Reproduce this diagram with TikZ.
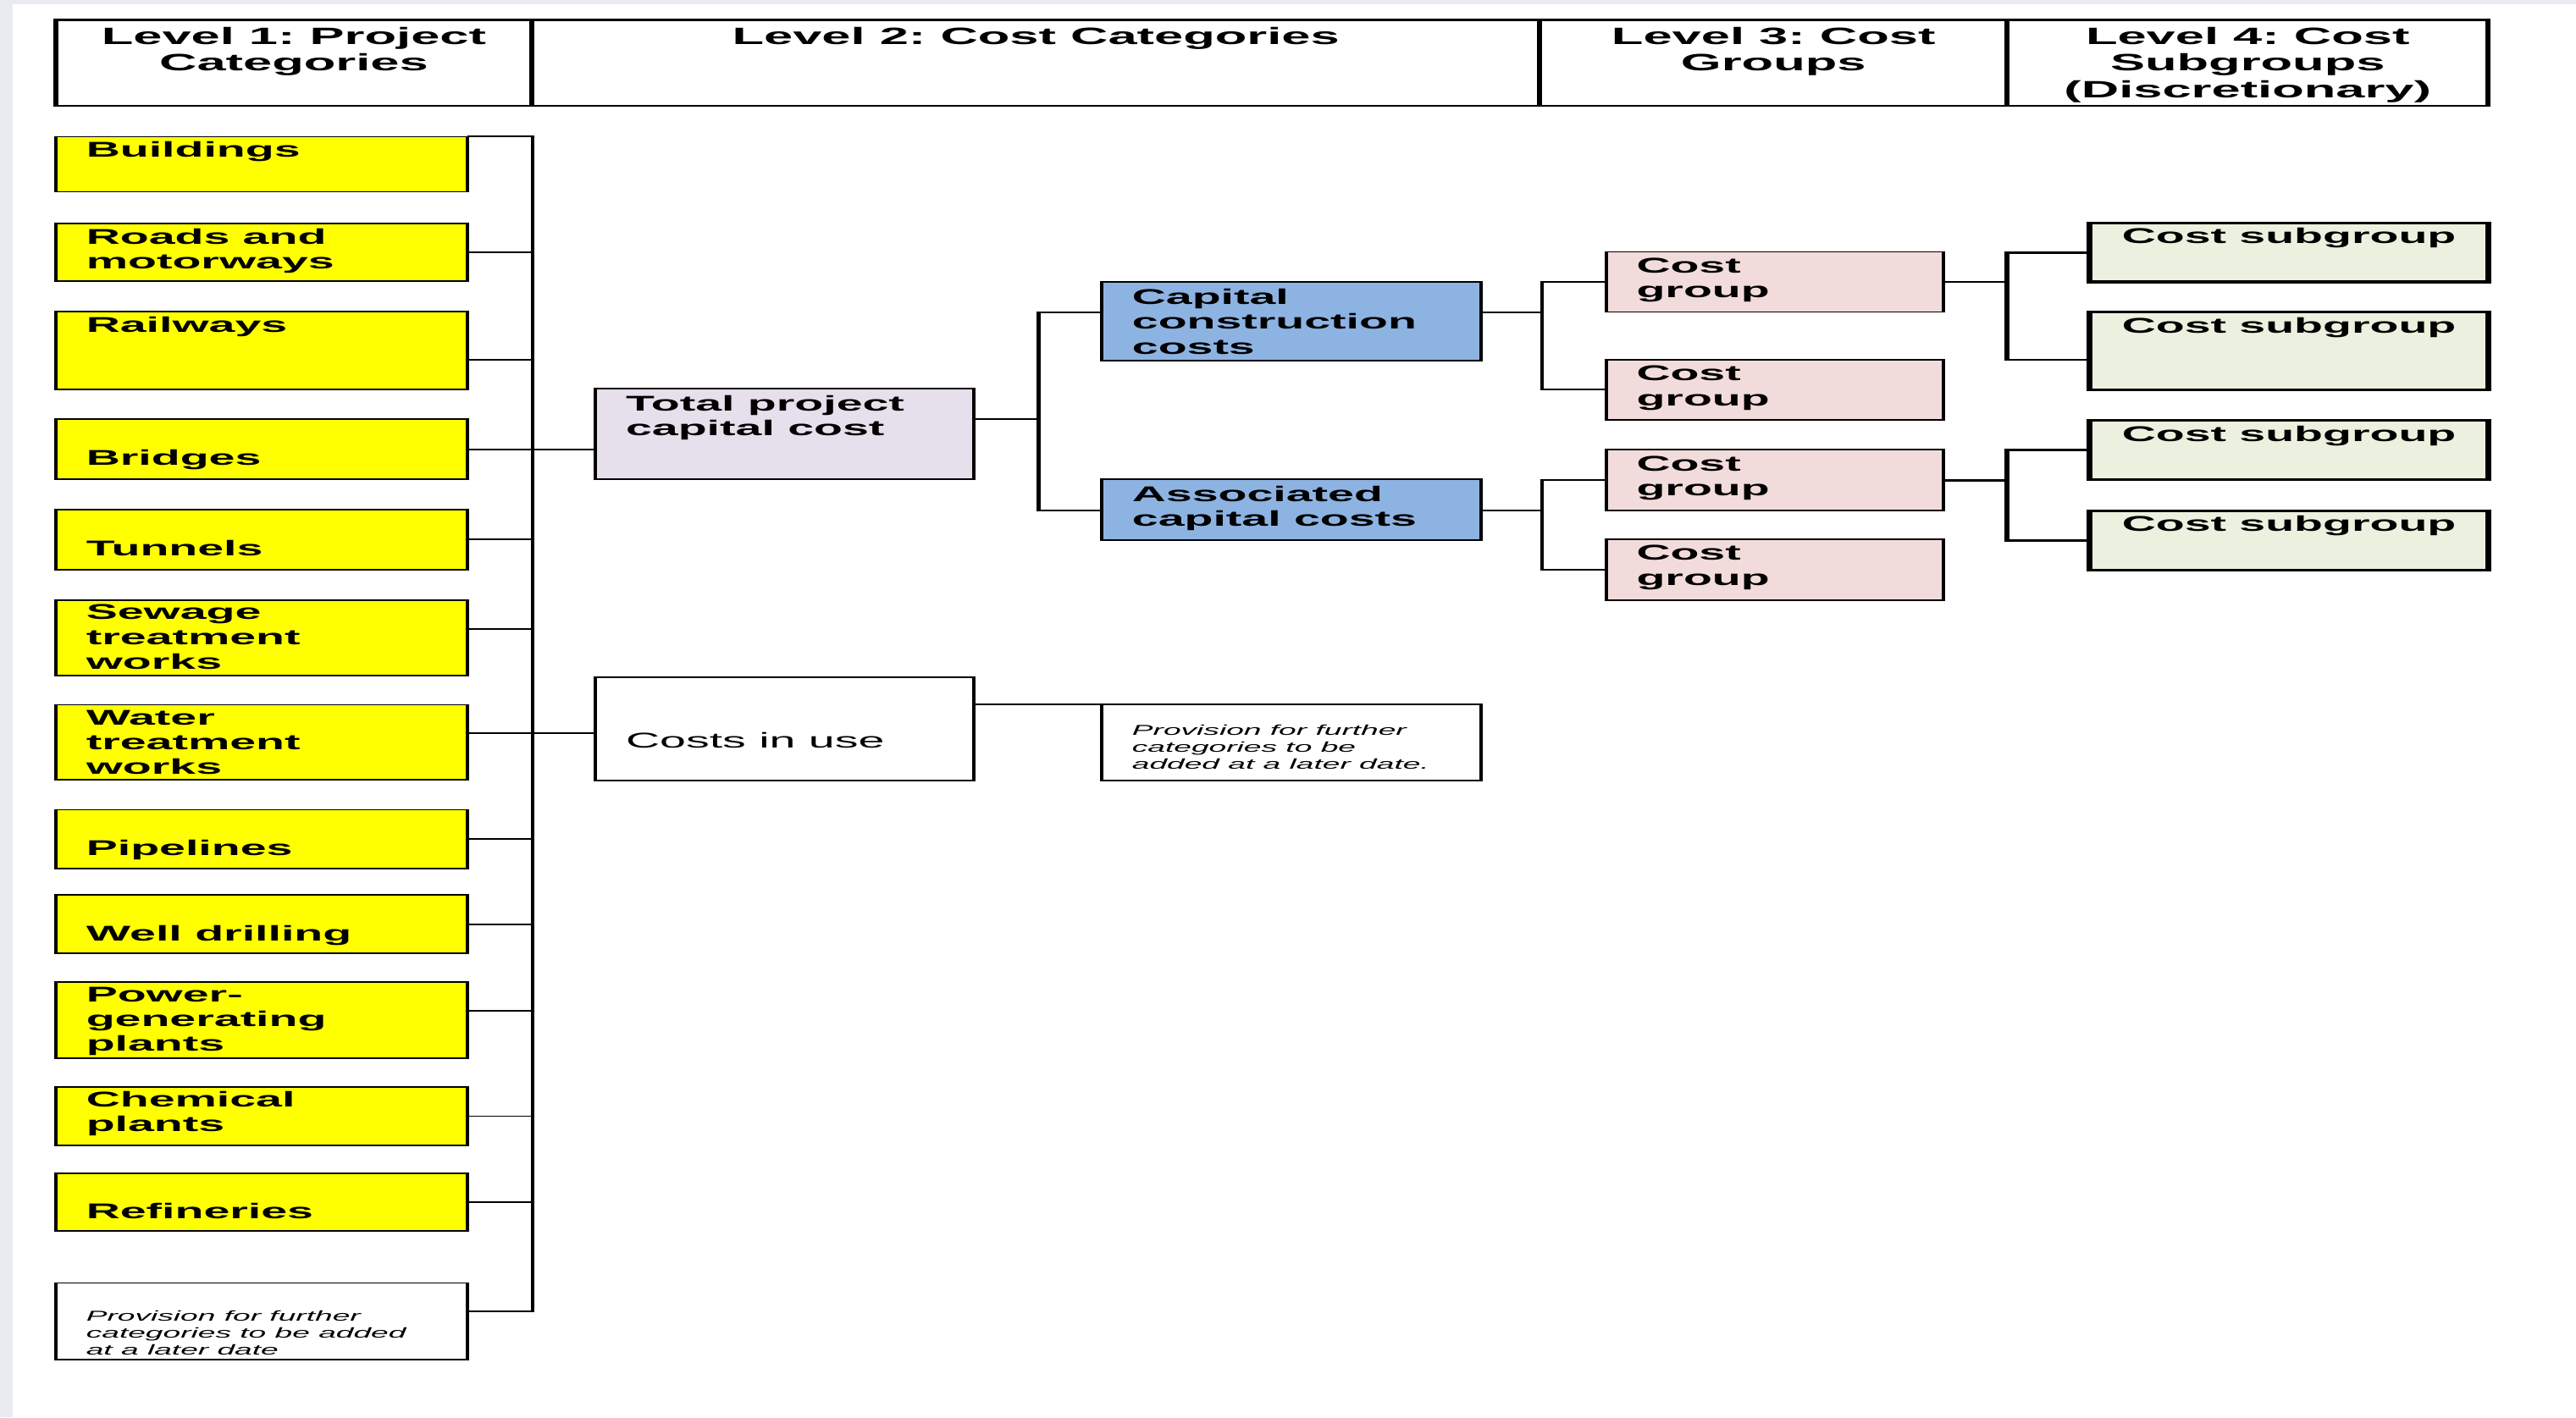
\documentclass[tikz,border=0pt]{standalone}
\usepackage{fontspec}
\setmainfont{Liberation Sans}
\frenchspacing
\definecolor{bgstrip}{HTML}{E8ECF0}
\definecolor{ylw}{HTML}{FFFF00}
\definecolor{lav}{HTML}{E5E0EC}
\definecolor{blu}{HTML}{8DB3E2}
\definecolor{pnk}{HTML}{F2DCDB}
\definecolor{grn}{HTML}{EBF1DE}
\newcommand\fB{\fontsize{6.5}{7.5}\selectfont\bfseries}
\newcommand\fR{\fontsize{6.5}{7.5}\selectfont}
\newcommand\fH{\fontsize{7.2}{8.05}\selectfont\bfseries}
\newcommand\fS{\fontsize{4.35}{5.15}\selectfont\itshape}
% name, style, x1, y1, x2, y2, first-baseline offset (px), text
\newcommand\tb[8]{\node[#2, anchor=north west] (#1) at (#3,#4) {\parbox[b][\dimexpr(#6pt-#4pt)/2\relax][t]{\dimexpr(#5pt-#3pt)*5/22\relax}{\frenchspacing\raggedright\leftskip=4.2pt\relax\rule{0pt}{\dimexpr#7pt/2\relax}#8\par}};}
\tikzset{
  bx/.style={draw, inner sep=0pt, outer sep=0pt, line width=0.45pt},
  hd/.style={bx, fill=white, line width=0.7pt},
  yb/.style={bx, fill=ylw},
  wb/.style={bx, fill=white},
  lb/.style={bx, fill=lav},
  bb/.style={bx, fill=blu},
  pb/.style={bx, fill=pnk},
  gb/.style={bx, fill=grn, line width=0.85pt},
  conn/.style={line width=0.5pt},
  conn4/.style={line width=0.7pt},
}
\begin{document}
\begin{tikzpicture}
\useasboundingbox (0pt,0pt) rectangle (784pt,-431.5pt);
\fill[white] (0pt,0pt) rectangle (784pt,-431.5pt);
\fill[bgstrip] (0pt,0pt) rectangle (784pt,-1.2pt);
\fill[bgstrip] (0pt,0pt) rectangle (3.75pt,-431.5pt);
\begin{scope}[transform canvas={xscale=2.2}, x=0.2272727pt, y=-0.5pt]
% header
\tb{h1}{hd}{33.9}{12}{323.8}{64.4}{15.1}{\fH\centering Level 1: Project\\Categories}
\tb{h2}{hd}{323.8}{12}{937.2}{64.4}{15.1}{\fH\centering Level 2: Cost Categories}
\tb{h3}{hd}{937.2}{12}{1221.7}{64.4}{15.1}{\fH\centering Level 3: Cost\\Groups}
\tb{h4}{hd}{1221.7}{12}{1514.5}{64.4}{15.1}{\fH\centering Level 4: Cost\\Subgroups\\(Discretionary)}
% level 1
\tb{b1}{yb}{34}{83.2}{284.4}{116.8}{12.3}{\fB Buildings}
\tb{b2}{yb}{34}{136.2}{284.4}{171}{12.3}{\fB Roads and\\motorways}
\tb{b3}{yb}{34}{189.8}{284.4}{237.1}{12.5}{\fB Railways}
\tb{b4}{yb}{34}{255.2}{284.4}{291.8}{27.8}{\fB Bridges}
\tb{b5}{yb}{34}{310.4}{284.4}{346.7}{27.8}{\fB Tunnels}
\tb{b6}{yb}{34}{365.3}{284.4}{411.2}{12}{\fB Sewage\\treatment\\works}
\tb{b7}{yb}{34}{429.1}{284.4}{474.8}{12.4}{\fB Water\\treatment\\works}
\tb{b8}{yb}{34}{493}{284.4}{528.7}{27.8}{\fB Pipelines}
\tb{b9}{yb}{34}{545}{284.4}{580.5}{27.8}{\fB Well drilling}
\tb{b10}{yb}{34}{597.9}{284.4}{644.3}{12.2}{\fB Power-\\generating\\plants}
\tb{b11}{yb}{34}{661.8}{284.4}{697.4}{12.3}{\fB Chemical\\plants}
\tb{b12}{yb}{34}{714.5}{284.4}{749.5}{27.3}{\fB Refineries}
\tb{b13}{wb}{34}{781.2}{284.4}{827.9}{23}{\fS Provision for further\\categories to be added\\at a later date}
% level 2
\tb{tp}{lb}{362.5}{236.6}{592.8}{291.9}{13.6}{\fB Total project\\capital cost}
\tb{ciu}{wb}{362.5}{412.2}{592.8}{475.2}{43}{\fR Costs in use}
\tb{cap}{bb}{670.6}{171.5}{901.3}{219.4}{14}{\fB Capital\\construction\\costs}
\tb{aso}{bb}{670.6}{291.7}{901.3}{328.7}{13.8}{\fB Associated\\capital costs}
\tb{pv2}{wb}{670.6}{429}{901.3}{475.4}{18.5}{\fS Provision for further\\categories to be\\added at a later date.}
% level 3
\tb{cg1}{pb}{977.6}{153.4}{1183}{190}{12.9}{\fB Cost\\group}
\tb{cg2}{pb}{977.6}{219}{1183}{255.6}{12.9}{\fB Cost\\group}
\tb{cg3}{pb}{977.6}{273.7}{1183}{311}{12.9}{\fB Cost\\group}
\tb{cg4}{pb}{977.6}{328.3}{1183}{365.5}{12.9}{\fB Cost\\group}
% level 4
\tb{sg1}{gb}{1272}{135.7}{1514.5}{171.7}{12.6}{\fB\centering Cost subgroup}
\tb{sg2}{gb}{1272}{190}{1514.5}{237.5}{12.6}{\fB\centering Cost subgroup}
\tb{sg3}{gb}{1272}{256}{1514.5}{292}{12.6}{\fB\centering Cost subgroup}
\tb{sg4}{gb}{1272}{311}{1514.5}{347}{12.6}{\fB\centering Cost subgroup}
% junction coordinates
\coordinate (sp1) at (324.2,83.2);
\coordinate (f2) at (632.2,0);
\coordinate (f3) at (938.6,0);
\coordinate (f4) at (1221.7,0);
\coordinate (c3) at ([yshift=-14.7pt]b3.north east);
\coordinate (c6) at ([yshift=-8.85pt]b6.north east);
\coordinate (c7) at ([yshift=-8.7pt]b7.north east);
\coordinate (c10) at ([yshift=-8.85pt]b10.north east);
\coordinate (c13) at ([yshift=-8.7pt]b13.north east);
\coordinate (t1) at ([yshift=-9.3pt]tp.north east);
\coordinate (capw) at ([yshift=-9.45pt]cap.north west);
\coordinate (cape) at ([yshift=-9.45pt]cap.north east);
\coordinate (asow) at ([yshift=-9.5pt]aso.north west);
\coordinate (asoe) at ([yshift=-9.5pt]aso.north east);
\coordinate (s2) at ([yshift=-14.5pt]sg2.north west);
% level 1 connectors
\draw[conn] (b1.north east) -- (sp1) -- (c13 -| sp1) -- (c13);
\draw[conn] (b2.east) -- (b2.east -| sp1);
\draw[conn] (c3) -- (c3 -| sp1);
\draw[conn] (b4.east) -- (b4.east -| tp.west);
\draw[conn] (b5.east) -- (b5.east -| sp1);
\draw[conn] (c6) -- (c6 -| sp1);
\draw[conn] (c7) -- (c7 -| ciu.west);
\draw[conn] (b8.east) -- (b8.east -| sp1);
\draw[conn] (b9.east) -- (b9.east -| sp1);
\draw[conn] (c10) -- (c10 -| sp1);
\draw[conn] (b11.east) -- (b11.east -| sp1);
\draw[conn] (b12.east) -- (b12.east -| sp1);
% level 2 connectors
\draw[conn] (t1) -- (t1 -| f2);
\draw[conn] (capw) -- (capw -| f2) -- (asow -| f2) -- (asow);
\draw[conn] (pv2.north west -| ciu.east) -- (pv2.north west);
% level 3 connectors
\draw[conn] (cape) -- (cape -| f3);
\draw[conn] (cg1.west) -- (cg1.west -| f3) -- (cg2.west -| f3) -- (cg2.west);
\draw[conn] (asoe) -- (asoe -| f3);
\draw[conn] (cg3.west) -- (cg3.west -| f3) -- (cg4.west -| f3) -- (cg4.west);
% level 4 connectors
\draw[conn4] (cg1.east) -- (cg1.east -| f4);
\draw[conn4] (sg1.west) -- (sg1.west -| f4) -- (s2 -| f4) -- (s2);
\draw[conn4] (cg3.east) -- (cg3.east -| f4);
\draw[conn4] (sg3.west) -- (sg3.west -| f4) -- (sg4.west -| f4) -- (sg4.west);
\end{scope}
\end{tikzpicture}
\end{document}
